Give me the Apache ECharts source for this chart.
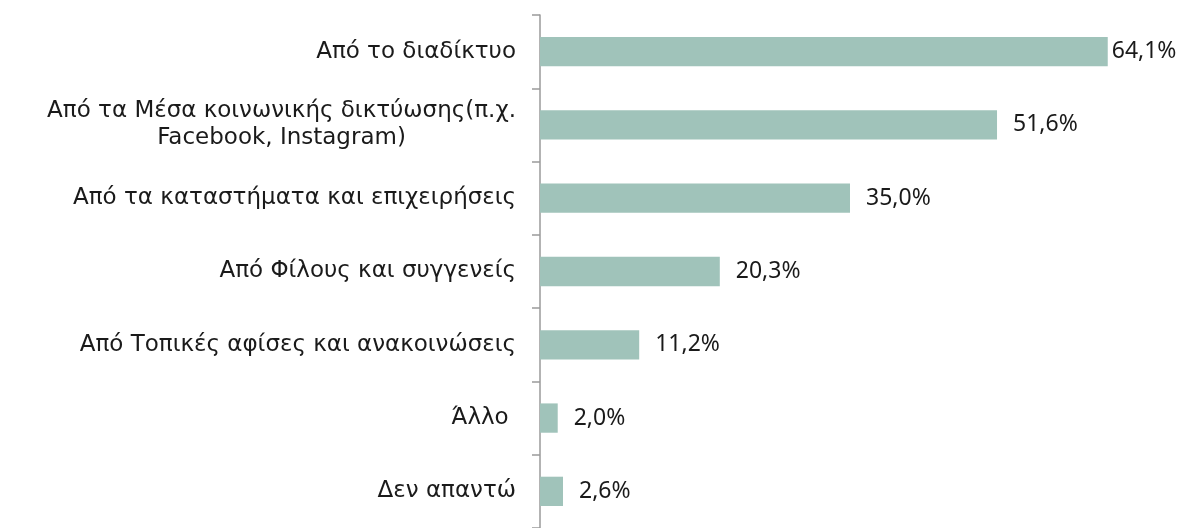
<!DOCTYPE html>
<html>
<head>
<meta charset="utf-8">
<script src="https://cdn.jsdelivr.net/npm/echarts@6/dist/echarts.min.js"></script>
<style>
  html, body { margin: 0; padding: 0; background: #fff; }
  #chart { width: 1182px; height: 528px; }
</style>
</head>
<body>
<div id="chart"></div>
<script>
'use strict';

// categories top to bottom, values in %
let categories = [
    'Από το διαδίκτυο',
    'Από τα Μέσα κοινωνικής δικτύωσης(π.χ.\nFacebook, Instagram)',
    'Από τα καταστήματα και επιχειρήσεις',
    'Από Φίλους και συγγενείς',
    'Από Τοπικές αφίσες και ανακοινώσεις',
    'Άλλο ',
    'Δεν απαντώ'
];
let values = [64.1, 51.6, 35.0, 20.3, 11.2, 2.0, 2.6];
let valueLabels = ['64,1%', '51,6%', '35,0%', '20,3%', '11,2%', '2,0%', '2,6%'];

let myChart = echarts.init(document.getElementById('chart'));

let seriesData = values.map(function(v, i){
    let item = {value: v};
    // the first label sits tight against its bar in the original
    if(i === 0){
        item.label = {distance: 4};
    }
    return item;
});

let option = {
    animation: false,
    grid: {
        left: 540,
        top: 15,
        bottom: -6,
        width: 620
    },
    xAxis: {
        type: 'value',
        min: 0,
        max: 70,
        show: false
    },
    yAxis: {
        type: 'category',
        inverse: true,
        data: categories,
        axisLine: {
            lineStyle: {color: '#9a9a9a', width: 1.5}
        },
        axisTick: {
            show: true,
            length: 8,
            lineStyle: {color: '#9a9a9a', width: 1.5}
        },
        axisLabel: {
            margin: 24,
            formatter: function(val){
                let lines = val.split('\n');
                return lines.map(function(l){ return '{c|' + l + '}'; }).join('\n');
            },
            rich: {
                c: {
                    fontSize: 23,
                    color: '#1a1a1a',
                    fontFamily: 'DejaVu Sans',
                    align: 'center',
                    lineHeight: 27
                }
            }
        }
    },
    series: [
        {
            type: 'bar',
            data: seriesData,
            barWidth: '40%',
            itemStyle: {color: '#a0c3ba'},
            label: {
                show: true,
                position: 'right',
                distance: 16,
                fontSize: 23,
                fontFamily: 'Noto Sans',
                color: '#1a1a1a',
                formatter: function(p){
                    return valueLabels[p.dataIndex];
                }
            }
        }
    ]
};
myChart.setOption(option);
</script>
</body>
</html>
